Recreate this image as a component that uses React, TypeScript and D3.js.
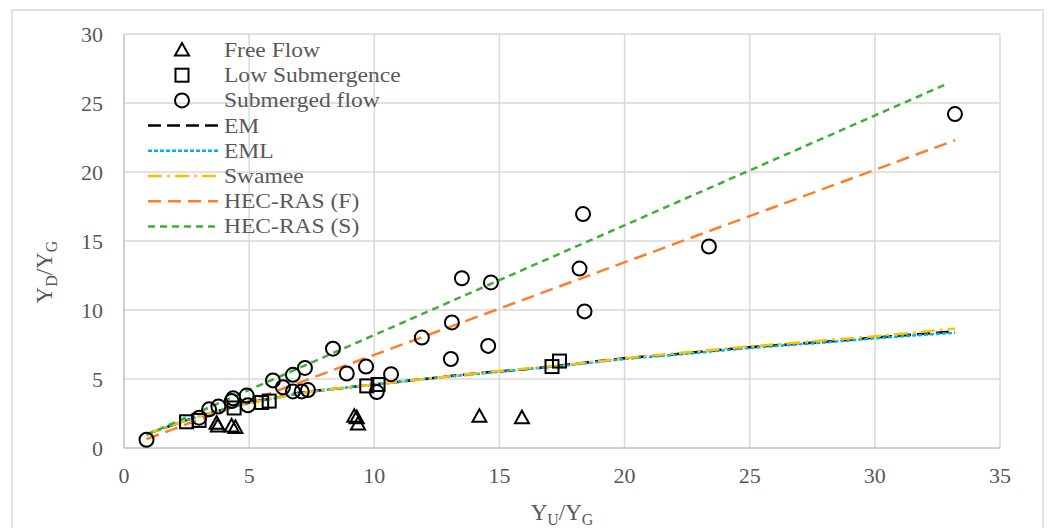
import React from "react";
import * as d3 from "d3";

// measured points
const freeFlowX = [3.7, 3.75, 4.3, 4.45, 9.2, 9.35, 9.3, 14.2, 15.9];
const freeFlowY = [1.8, 1.6, 1.6, 1.5, 2.3, 1.75, 2.2, 2.3, 2.2];

const lowSubX = [2.5, 3.0, 4.4, 5.5, 5.8, 9.7, 10.15, 17.1, 17.4];
const lowSubY = [1.9, 2.0, 2.9, 3.3, 3.4, 4.5, 4.6, 5.9, 6.3];

const submergedX = [0.9, 3.0, 3.4, 3.77, 4.3, 4.36, 4.9, 4.95, 5.95, 6.35, 6.75, 6.75, 7.1, 7.23, 7.35,
  8.35, 8.9, 9.67, 10.1, 10.67, 11.9, 13.06, 13.1, 13.5, 14.55, 14.66, 18.2, 18.34, 18.4, 23.37, 33.2];
const submergedY = [0.6, 2.2, 2.8, 3.0, 3.4, 3.6, 3.8, 3.1, 4.9, 4.4, 5.3, 4.1, 4.1, 5.8, 4.2,
  7.2, 5.4, 5.9, 4.05, 5.35, 8.0, 6.45, 9.1, 12.3, 7.4, 12.0, 13.0, 16.95, 9.9, 14.6, 24.2];

// model curves
const modelX = [0.9, 2, 3, 4, 5, 6, 7, 8, 10, 12, 14, 16, 18, 20, 22, 25, 28, 30, 33.2];
const emY = [1.0, 1.7, 2.3, 2.8, 3.3, 3.6, 4.0, 4.2, 4.6, 5.0, 5.4, 5.7, 6.1, 6.5, 6.8, 7.3, 7.7, 8.0, 8.45];
const emlY = [1.0, 1.7, 2.3, 2.8, 3.25, 3.6, 3.95, 4.2, 4.6, 5.0, 5.35, 5.7, 6.05, 6.45, 6.75, 7.25, 7.65, 7.95, 8.35];
const swameeY = [1.0, 1.7, 2.3, 2.8, 3.25, 3.6, 3.95, 4.2, 4.6, 5.0, 5.4, 5.75, 6.1, 6.5, 6.85, 7.35, 7.8, 8.1, 8.65];
const hecX = [0.9, 33.2];
const hecFY = [0.65, 22.3];
const hecSX = [0.9, 32.9];
const hecSY = [0.95, 26.4];

const xTicks = [0, 5, 10, 15, 20, 25, 30, 35];
const yTicks = [0, 5, 10, 15, 20, 25, 30];

const W = 1052;
const H = 528;
const plot = { left: 124, right: 1000, top: 34, bottom: 448 };
const font = "'Liberation Serif', 'Times New Roman', serif";

const lineSeries = [
  { name: "EM", xs: modelX, ys: emY, color: "#000000", dash: "13,6" },
  { name: "EML", xs: modelX, ys: emlY, color: "#00b0f0", dash: "4,2" },
  { name: "Swamee", xs: modelX, ys: swameeY, color: "#ffc000", dash: "14,5,3,5" },
  { name: "HEC-RAS (F)", xs: hecX, ys: hecFY, color: "#ff7f27", dash: "13,7" },
  { name: "HEC-RAS (S)", xs: hecSX, ys: hecSY, color: "#3cb034", dash: "7,5" },
];

function Triangle({ x, y }: { x: number; y: number }) {
  const s = 7;
  return <path d={`M${x},${y - s}L${x + s},${y + s * 0.8}L${x - s},${y + s * 0.8}Z`} fill="none" stroke="#000" strokeWidth={2} />;
}
function Square({ x, y }: { x: number; y: number }) {
  return <rect x={x - 6.5} y={y - 6.5} width={13} height={13} fill="none" stroke="#000" strokeWidth={2} />;
}
function Circle({ x, y }: { x: number; y: number }) {
  return <circle cx={x} cy={y} r={7} fill="none" stroke="#000" strokeWidth={2} />;
}

export default function App() {
  const x = d3.scaleLinear().domain([0, 35]).range([plot.left, plot.right]);
  const y = d3.scaleLinear().domain([0, 30]).range([plot.bottom, plot.top]);

  const lineGen = d3
    .line<[number, number]>()
    .x((d) => x(d[0]))
    .y((d) => y(d[1]))
    .curve(d3.curveMonotoneX);

  const legendRows = [
    { label: "Free Flow", kind: "tri" },
    { label: "Low Submergence", kind: "sq" },
    { label: "Submerged flow", kind: "circ" },
    ...lineSeries.map((s) => ({ label: s.name, kind: "line", s })),
  ];
  const legendY0 = 50;
  const legendStep = 25.2;

  return (
    <svg width={W} height={H} style={{ position: "absolute", left: 0, top: 0, background: "#fff" }}>
      <rect x={12} y={10} width={1031} height={530} fill="#fff" stroke="#d9d9d9" strokeWidth={1.5} />

      {/* grid */}
      {xTicks.slice(1).map((t) => (
        <line key={"gx" + t} x1={x(t)} x2={x(t)} y1={plot.top} y2={plot.bottom} stroke="#d9d9d9" strokeWidth={1.5} />
      ))}
      {yTicks.slice(1).map((t) => (
        <line key={"gy" + t} x1={plot.left} x2={plot.right} y1={y(t)} y2={y(t)} stroke="#d9d9d9" strokeWidth={1.5} />
      ))}
      <line x1={plot.left} x2={plot.left} y1={plot.top} y2={plot.bottom} stroke="#bfbfbf" strokeWidth={1.5} />
      <line x1={plot.left} x2={plot.right} y1={plot.bottom} y2={plot.bottom} stroke="#bfbfbf" strokeWidth={1.5} />

      {/* tick labels */}
      {xTicks.map((t) => (
        <text key={"tx" + t} x={x(t)} y={483} textAnchor="middle" fontFamily={font} fontSize={22} fill="#595959">{t}</text>
      ))}
      {yTicks.map((t) => (
        <text key={"ty" + t} x={103} y={y(t) + 8} textAnchor="end" fontFamily={font} fontSize={22} fill="#595959">{t}</text>
      ))}

      {/* axis titles */}
      <text x={562} y={520} textAnchor="middle" fontFamily={font} fontSize={23} fill="#595959">
        Y<tspan dy={5} fontSize={16}>U</tspan><tspan dy={-5}>/Y</tspan><tspan dy={5} fontSize={16}>G</tspan>
      </text>
      <text transform={`translate(52,${272}) rotate(-90)`} textAnchor="middle" fontFamily={font} fontSize={23} fill="#595959">
        Y<tspan dy={5} fontSize={16}>D</tspan><tspan dy={-5}>/Y</tspan><tspan dy={5} fontSize={16}>G</tspan>
      </text>

      {/* lines */}
      {lineSeries.map((s) => (
        <path
          key={s.name}
          d={lineGen(s.xs.map((v, i) => [v, s.ys[i]] as [number, number])) || ""}
          fill="none"
          stroke={s.color}
          strokeWidth={2.5}
          strokeDasharray={s.dash}
        />
      ))}

      {/* markers */}
      {freeFlowX.map((v, i) => <Triangle key={"t" + i} x={x(v)} y={y(freeFlowY[i])} />)}
      {lowSubX.map((v, i) => <Square key={"s" + i} x={x(v)} y={y(lowSubY[i])} />)}
      {submergedX.map((v, i) => <Circle key={"c" + i} x={x(v)} y={y(submergedY[i])} />)}

      {/* legend */}
      {legendRows.map((r: any, i) => {
        const ly = legendY0 + i * legendStep;
        let sym: React.ReactNode = null;
        if (r.kind === "tri") sym = <Triangle x={182} y={ly} />;
        else if (r.kind === "sq") sym = <Square x={182} y={ly} />;
        else if (r.kind === "circ") sym = <Circle x={182} y={ly} />;
        else sym = <line x1={148} x2={218} y1={ly} y2={ly} stroke={r.s.color} strokeWidth={2.5} strokeDasharray={r.s.dash} />;
        return (
          <g key={r.label}>
            {sym}
            <text transform={`translate(224,${ly + 7}) scale(1.07,1)`} fontFamily={font} fontSize={22} fill="#595959">{r.label}</text>
          </g>
        );
      })}
    </svg>
  );
}
